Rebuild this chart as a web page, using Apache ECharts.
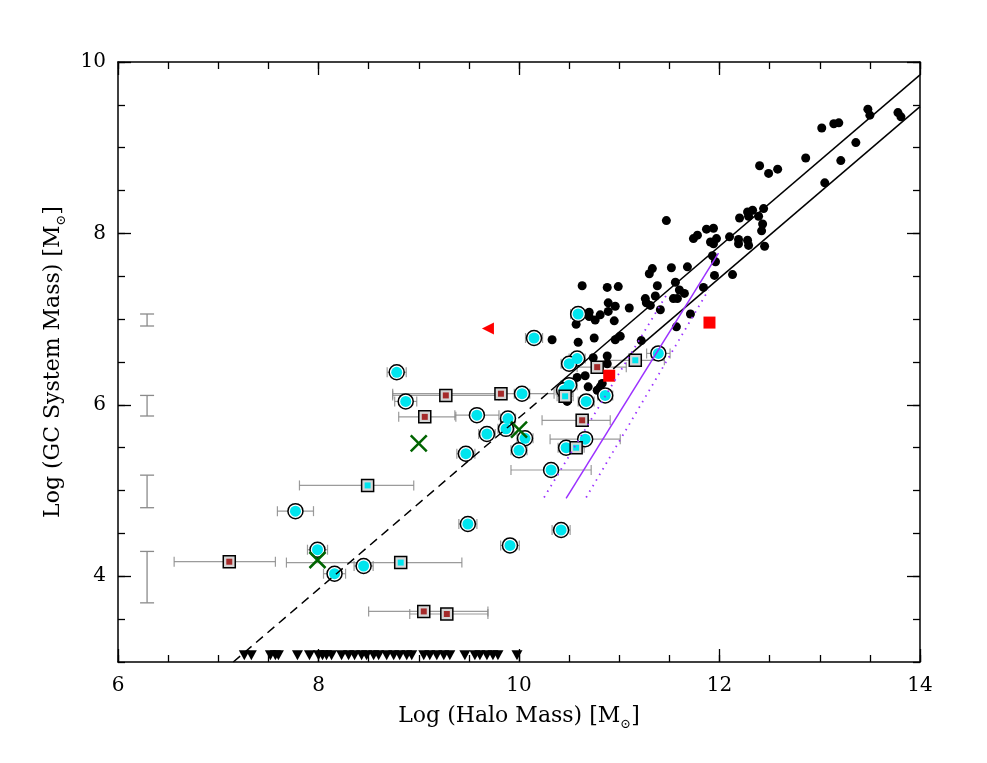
<!DOCTYPE html>
<html>
<head>
<meta charset="utf-8">
<style>html,body{margin:0;background:#fff}#chart{width:987px;height:763px}</style>
<script src="https://cdn.jsdelivr.net/npm/echarts@6/dist/echarts.min.js"></script>
</head>
<body>
<div id="chart"></div>
<script>
// giant galaxies: [log Mhalo, log Mgcs]
const giants = [
  [11.47,8.15],[11.74,7.94],[11.78,7.98],[11.87,8.05],[11.94,8.06],[11.91,7.90],[11.97,7.94],[11.94,7.88],[11.93,7.74],[11.96,7.67],
  [12.10,7.96],[12.19,7.93],[12.19,7.88],[12.28,7.92],[12.29,7.86],[12.20,8.18],[12.28,8.25],[12.33,8.27],[12.29,8.20],[12.39,8.20],
  [12.44,8.29],[12.43,8.11],[12.42,8.03],[12.45,7.85],[12.40,8.79],[12.49,8.70],[12.58,8.75],[12.86,8.88],[13.02,9.23],[13.14,9.28],
  [13.19,9.29],[13.05,8.59],[13.21,8.85],[13.36,9.06],[13.48,9.45],[13.50,9.38],[13.78,9.41],[13.81,9.36],[11.95,7.51],[12.13,7.52],
  [11.84,7.37],[11.71,7.06],[11.57,6.91],[11.30,7.53],[11.33,7.59],[11.52,7.60],[11.68,7.61],[11.38,7.39],[11.56,7.43],[11.60,7.34],
  [11.65,7.30],[11.54,7.24],[11.58,7.24],[11.36,7.27],[11.41,7.11],[11.26,7.24],[11.27,7.19],[11.31,7.16],[10.63,7.39],[10.88,7.37],
  [10.99,7.38],[10.89,7.19],[10.96,7.15],[11.10,7.13],[10.89,7.09],[10.70,7.08],[10.70,7.03],[10.76,6.99],[10.81,7.05],[10.57,6.94],
  [10.95,6.98],[10.33,6.76],[10.59,6.73],[10.75,6.78],[10.96,6.76],[11.01,6.80],[11.22,6.75],[10.74,6.55],[10.88,6.57],[10.88,6.48],
  [10.58,6.32],[10.66,6.34],[10.69,6.21],[10.81,6.21],[10.83,6.25],[10.78,6.17],[10.48,6.04]
];
// dwarfs (circles): [x, y, x error]
const dwarfCircles = [
  [10.59,7.06,0.075],[10.15,6.78,0.085],[10.58,6.54,0.08],[10.50,6.48,0.08],[8.78,6.38,0.095],[10.50,6.23,0.08],
  [10.45,6.17,0.08],[10.03,6.13,0.077],[8.87,6.04,0.11],[10.67,6.04,0.08],[10.86,6.11,0.075],[9.58,5.88,0.22],
  [9.89,5.84,0.075],[9.87,5.72,0.08],[9.68,5.66,0.083],[10.06,5.61,0.08],[10.00,5.47,0.08],[9.47,5.43,0.09],
  [10.32,5.24,0.40],[10.66,5.60,0.35],[10.47,5.50,0.08],[9.49,4.61,0.09],[10.42,4.54,0.09],[9.91,4.36,0.093],
  [7.77,4.76,0.18],[7.99,4.31,0.10],[8.45,4.12,0.095],[8.16,4.03,0.11],[11.39,6.60,0.117]
];
// squares with dark red centre: [x, y, x low, x high]
const redCoreSquares = [
  [10.78,6.44,10.58,11.07],[9.27,6.11,8.74,9.80],[9.82,6.13,8.74,10.35],[9.06,5.86,8.80,9.37],
  [10.63,5.82,10.23,10.91],[7.11,4.17,6.56,7.57],[9.05,3.59,8.50,9.69],[9.28,3.56,8.91,9.69]
];
// squares with cyan centre: [x, y, x low, x high]
const cyanCoreSquares = [
  [11.16,6.52,10.89,11.45],[10.46,6.10,10.38,10.54],[10.57,5.50,10.49,10.65],[8.49,5.06,7.81,8.95],[8.82,4.16,7.68,9.43]
];
const crosses = [[9.00,5.55],[10.00,5.71],[7.99,4.19]];
const redTriangle = [[9.69,6.89]];
const redSquares = [[10.90,6.34],[11.90,6.96]];
// upper limits at the bottom of the plot
const limitX = [7.26,7.33,7.52,7.57,7.60,7.79,7.91,8.00,8.04,8.08,8.13,8.23,8.30,8.36,8.43,8.48,8.55,8.60,
  8.68,8.75,8.81,8.88,8.93,9.05,9.11,9.18,9.25,9.31,9.46,9.56,9.61,9.68,9.74,9.79,9.98];
const limitY = 3.08;
// typical y errors: [x, y low, y high]
const typicalErr = [[6.29,6.92,7.06],[6.29,5.87,6.11],[6.29,4.80,5.18],[6.29,3.69,4.29]];
// relations
const fitDashed = [[7.15,3.0],[10.32,6.17]];
const fitUpper = [[10.32,6.17],[14.0,9.85]];
const fitLower = [[10.94,6.42],[14.0,9.48]];
const modelMid = [[10.47,4.91],[11.99,7.77]];
const modelLo = [[10.25,4.92],[11.48,7.30]];
const modelHi = [[10.67,4.92],[11.89,7.34]];
const xMajor = [6, 8, 10, 12, 14];
const yMajor = [4, 6, 8, 10];

const FONT = 'DejaVu Serif';
const BAR = '#8a8a8a';

function hBars(params, api) {
  const y = api.value(1);
  const a = api.coord([api.value(2), y]);
  const b = api.coord([api.value(3), y]);
  const c = 5;
  const style = { stroke: BAR, lineWidth: 1.2, opacity: 0.85 };
  return { type: 'group', children: [
    { type: 'line', shape: { x1: a[0], y1: a[1], x2: b[0], y2: b[1] }, style },
    { type: 'line', shape: { x1: a[0], y1: a[1] - c, x2: a[0], y2: a[1] + c }, style },
    { type: 'line', shape: { x1: b[0], y1: b[1] - c, x2: b[0], y2: b[1] + c }, style }
  ]};
}
function vBars(params, api) {
  const x = api.value(0);
  const a = api.coord([x, api.value(1)]);
  const b = api.coord([x, api.value(2)]);
  const c = 7;
  const style = { stroke: BAR, lineWidth: 1.3 };
  return { type: 'group', children: [
    { type: 'line', shape: { x1: a[0], y1: a[1], x2: b[0], y2: b[1] }, style },
    { type: 'line', shape: { x1: a[0] - c, y1: a[1], x2: a[0] + c, y2: a[1] }, style },
    { type: 'line', shape: { x1: b[0] - c, y1: b[1], x2: b[0] + c, y2: b[1] }, style }
  ]};
}

const circleBars = dwarfCircles.map(d => [d[0], d[1], d[0] - d[2], d[0] + d[2]]);
const squareBars = redCoreSquares.concat(cyanCoreSquares);

const nameStyle = { color: '#000', fontFamily: FONT, fontSize: 22, lineHeight: 30,
  rich: { s: { fontFamily: FONT, fontSize: 13, verticalAlign: 'bottom', lineHeight: 30 } } };
const tickLine = { color: '#000', width: 1.3 };
function xAxisDef(pos, major) {
  return {
    type: 'value', min: 6, max: 14, interval: major ? 2 : 0.5, position: pos,
    axisLine: { show: !major, lineStyle: { color: '#000', width: 1.5 } },
    axisTick: { inside: true, length: major ? 13 : 7, lineStyle: tickLine },
    axisLabel: major && pos === 'bottom'
      ? { show: true, customValues: xMajor, color: '#000', fontFamily: FONT, fontSize: 20, margin: 14 }
      : { show: false },
    splitLine: { show: false },
    name: major && pos === 'bottom' ? 'Log (Halo Mass) [M{s|⊙}]' : '',
    nameLocation: 'middle', nameGap: 38,
    nameTextStyle: nameStyle
  };
}
function yAxisDef(pos, major) {
  const base = {
    type: 'value', min: 3, max: 10, position: pos,
    axisLine: { show: !major, lineStyle: { color: '#000', width: 1.5 } },
    axisTick: { inside: true, length: major ? 13 : 7, lineStyle: tickLine },
    axisLabel: { show: false },
    splitLine: { show: false }
  };
  if (major) {
    base.axisTick.customValues = yMajor;
    if (pos === 'left') {
      base.axisLabel = { show: true, customValues: yMajor, color: '#000', fontFamily: FONT, fontSize: 20, margin: 12 };
      base.name = 'Log (GC System Mass) [M{s|⊙}]';
      base.nameLocation = 'middle';
      base.nameGap = 50;
      base.nameTextStyle = nameStyle;
    }
  } else {
    base.interval = 0.5;
  }
  return base;
}

const solid = { opacity: 1 };
const chart = echarts.init(document.getElementById('chart'), null, { renderer: 'canvas' });
const option = {
  animation: false,
  backgroundColor: '#fff',
  grid: { left: 118, right: 67, top: 62, bottom: 101 },
  xAxis: [xAxisDef('bottom', false), xAxisDef('bottom', true), xAxisDef('top', false), xAxisDef('top', true)],
  yAxis: [yAxisDef('left', false), yAxisDef('left', true), yAxisDef('right', false), yAxisDef('right', true)],
  series: [
    { type: 'scatter', data: giants, symbol: 'circle', symbolSize: 9, itemStyle: { color: '#000', ...solid } },
    { type: 'line', data: fitDashed, symbol: 'none', lineStyle: { color: '#000', width: 1.5, type: [9, 6] } },
    { type: 'line', data: fitUpper, symbol: 'none', lineStyle: { color: '#000', width: 1.5 } },
    { type: 'line', data: fitLower, symbol: 'none', lineStyle: { color: '#000', width: 1.5 } },
    { type: 'line', data: modelMid, symbol: 'none', lineStyle: { color: '#9b30ff', width: 1.5 } },
    { type: 'line', data: modelLo, symbol: 'none', lineStyle: { color: '#9b30ff', width: 1.8, type: [1.5, 5] } },
    { type: 'line', data: modelHi, symbol: 'none', lineStyle: { color: '#9b30ff', width: 1.8, type: [1.5, 5] } },
    { type: 'custom', renderItem: vBars, data: typicalErr, silent: true },
    { type: 'scatter', data: dwarfCircles.map(d => [d[0], d[1]]), symbol: 'circle', symbolSize: 15,
      itemStyle: { color: '#fff', borderColor: '#000', borderWidth: 1.5, ...solid } },
    { type: 'scatter', data: dwarfCircles.map(d => [d[0], d[1]]), symbol: 'circle', symbolSize: 11,
      itemStyle: { color: '#00e5ee', ...solid } },
    { type: 'custom', renderItem: hBars, data: circleBars, silent: true },
    { type: 'custom', renderItem: hBars, data: squareBars, silent: true },
    { type: 'scatter', data: squareBars.map(d => [d[0], d[1]]), symbol: 'rect', symbolSize: 12,
      itemStyle: { color: '#d6d6d6', borderColor: '#000', borderWidth: 1.5, ...solid } },
    { type: 'scatter', data: redCoreSquares.map(d => [d[0], d[1]]), symbol: 'rect', symbolSize: 6,
      itemStyle: { color: '#a52a2a', ...solid } },
    { type: 'scatter', data: cyanCoreSquares.map(d => [d[0], d[1]]), symbol: 'rect', symbolSize: 6,
      itemStyle: { color: '#00e5ee', ...solid } },
    { type: 'scatter', data: crosses, symbol: 'path://M0,0L10,10M10,0L0,10', symbolSize: 16,
      itemStyle: { color: 'transparent', borderColor: '#006400', borderWidth: 2.5, ...solid } },
    { type: 'scatter', data: redTriangle, symbol: 'triangle', symbolSize: 12, symbolRotate: 90,
      itemStyle: { color: '#ff0000', ...solid } },
    { type: 'scatter', data: redSquares, symbol: 'rect', symbolSize: 12, itemStyle: { color: '#ff0000', ...solid } },
    { type: 'scatter', data: limitX.map(x => [x, limitY]), symbol: 'triangle', symbolSize: [11, 10],
      symbolRotate: 180, itemStyle: { color: '#000', ...solid } }
  ]
};
chart.setOption(option);
</script>
</body>
</html>
